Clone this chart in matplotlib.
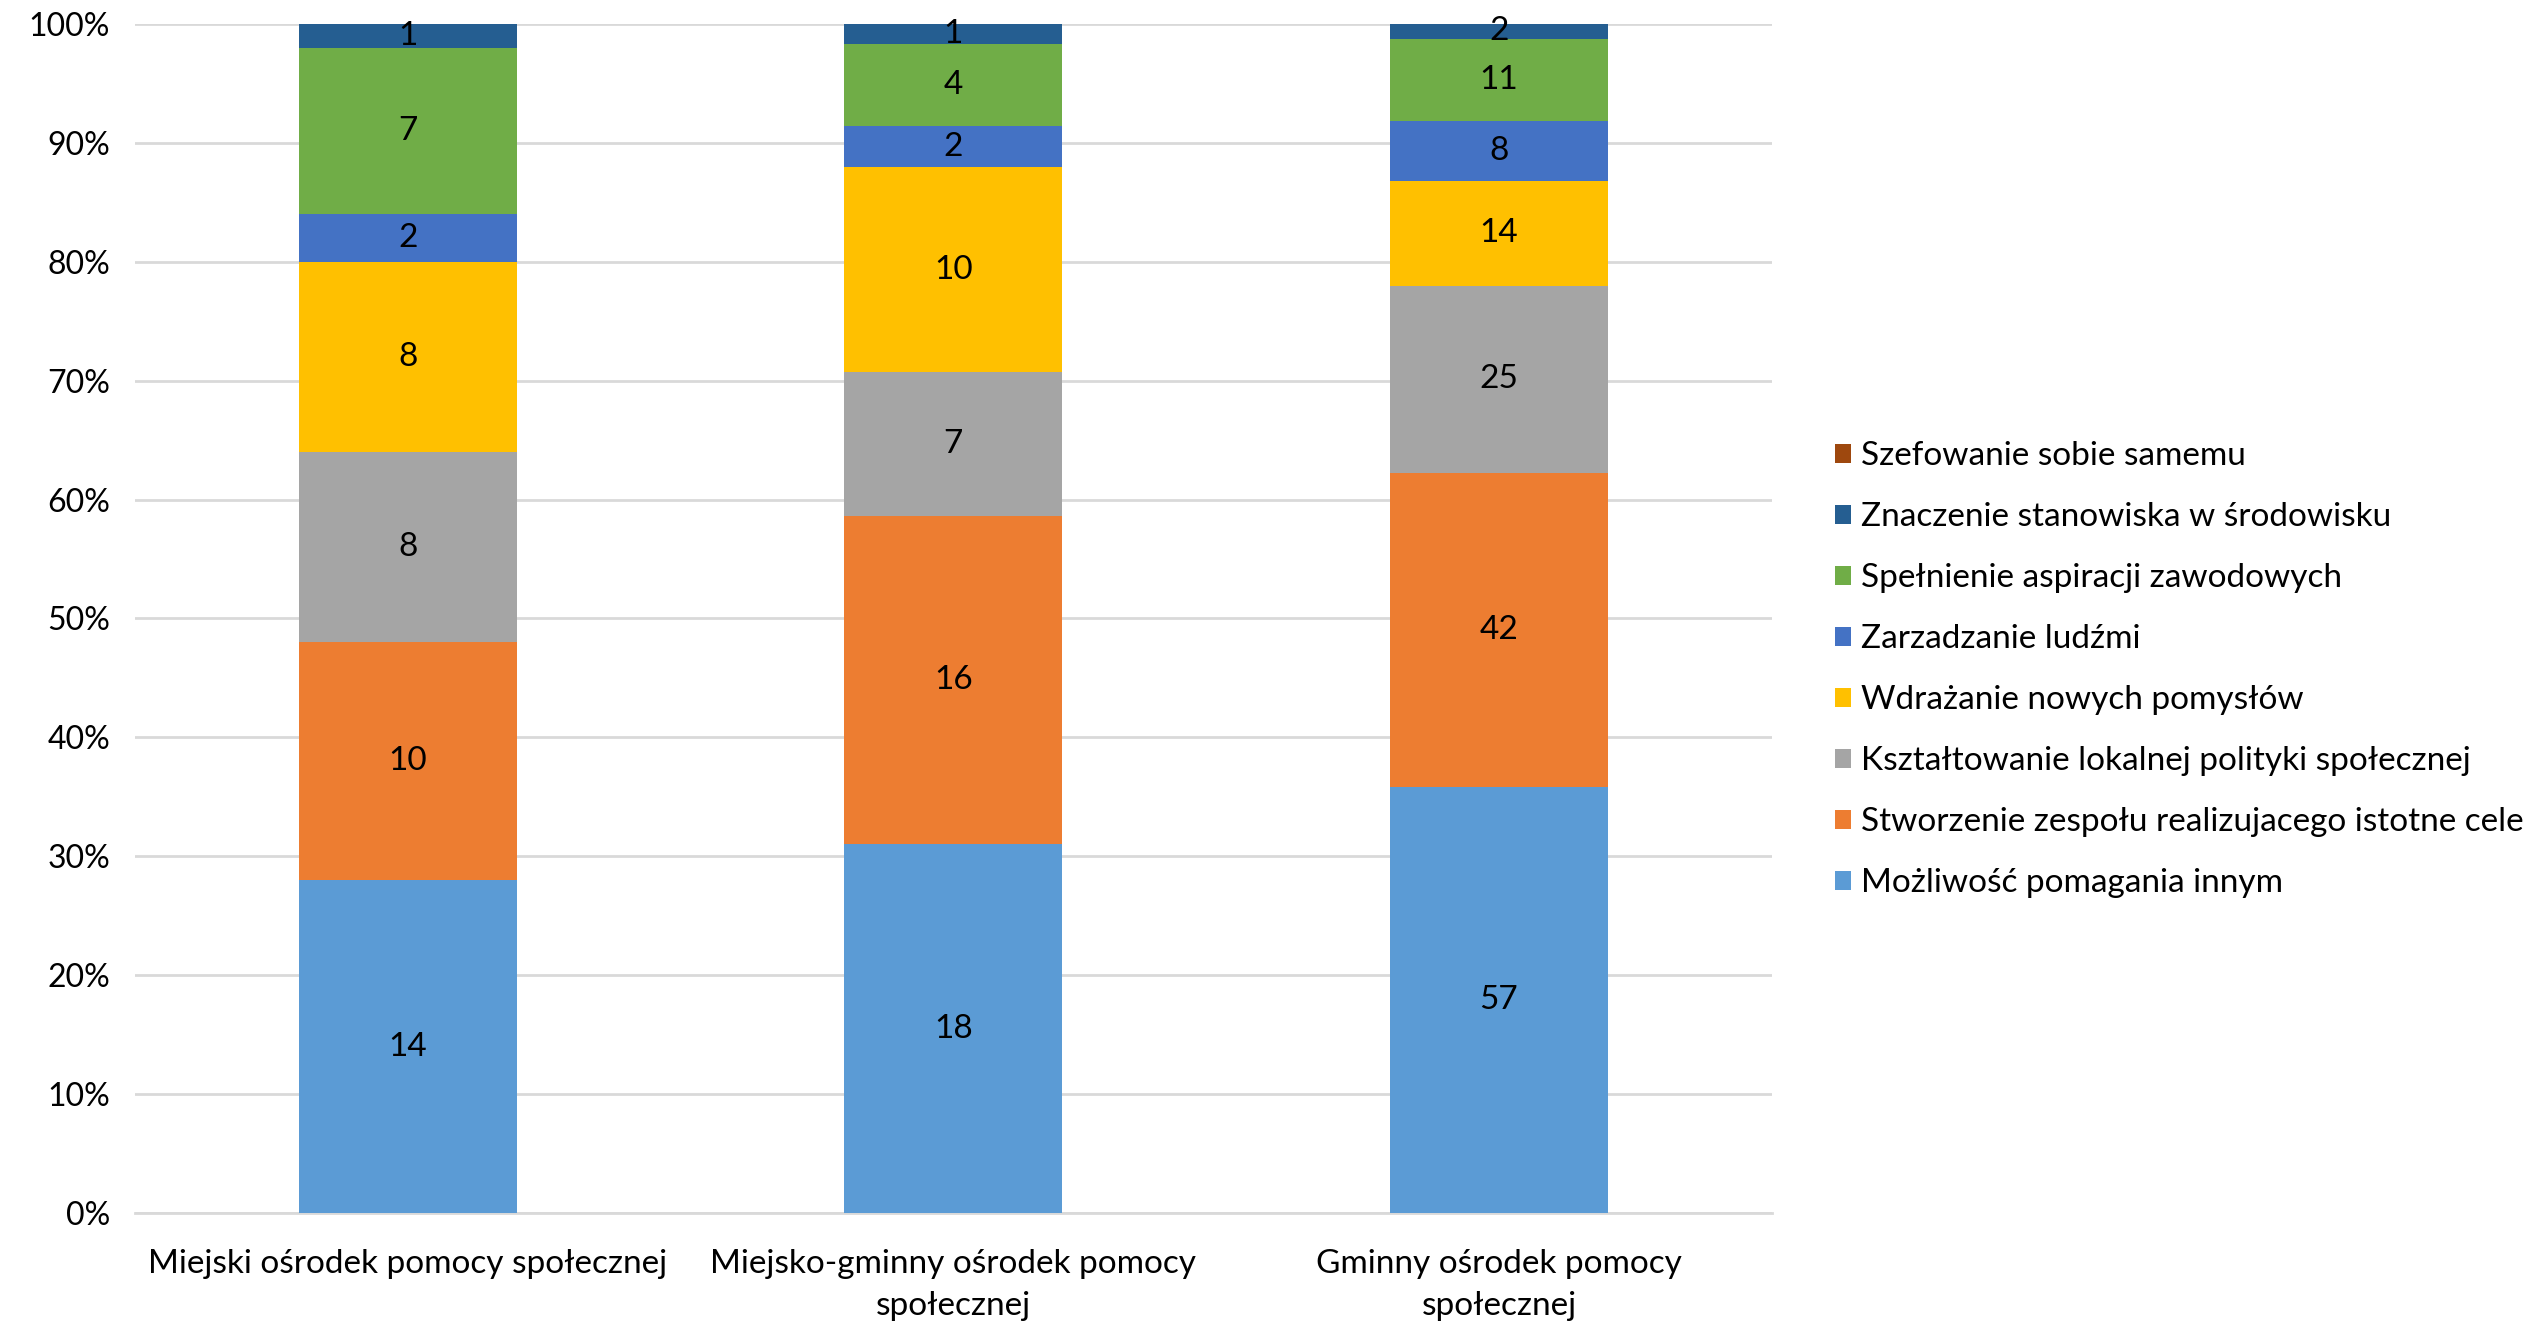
import matplotlib
matplotlib.use("Agg")
import matplotlib.pyplot as plt
from matplotlib.patches import Patch
from matplotlib.ticker import FuncFormatter
import numpy as np

plt.rcParams['font.family'] = ['Lato', 'DejaVu Sans']

categories = ["Miejski ośrodek pomocy społecznej",
              "Miejsko-gminny ośrodek pomocy\nspołecznej",
              "Gminny ośrodek pomocy\nspołecznej"]

series_names = ["Możliwość pomagania innym",
                "Stworzenie zespołu realizujacego istotne cele",
                "Kształtowanie lokalnej polityki społecznej",
                "Wdrażanie nowych pomysłów",
                "Zarzadzanie ludźmi",
                "Spełnienie aspiracji zawodowych",
                "Znaczenie stanowiska w środowisku",
                "Szefowanie sobie samemu"]

pomaganie = [14, 18, 57]
zespol = [10, 16, 42]
polityka = [8, 7, 25]
pomysly = [8, 10, 14]
ludzmi = [2, 2, 8]
aspiracje = [7, 4, 11]
znaczenie = [1, 1, 2]
szefowanie = [0, 0, 0]

series_values = [pomaganie, zespol, polityka, pomysly, ludzmi, aspiracje, znaczenie, szefowanie]
colors = ["#5B9BD5", "#ED7D31", "#A5A5A5", "#FFC000", "#4472C4", "#70AD47", "#255E91", "#9E480E"]

data = np.array(series_values, dtype=float)
totals = data.sum(axis=0)
frac = data / totals

fig = plt.figure(figsize=(25.42, 13.26), dpi=100)
ax = fig.add_axes([0.0531, 0.0852, 0.697 - 0.0531, 0.982 - 0.0852])

x = np.arange(len(categories))
bottom = np.zeros(len(categories))
for i, (name, col) in enumerate(zip(series_names, colors)):
    ax.bar(x, frac[i], 0.4, bottom=bottom, color=col, zorder=3, linewidth=0)
    for j in range(len(categories)):
        if data[i, j] > 0:
            ax.text(x[j], bottom[j] + frac[i, j] / 2, f"{int(data[i, j])}",
                    ha='center', va='center', fontsize=24, color='black', zorder=4)
    bottom += frac[i]

ax.set_xlim(-0.5, 2.5)
ax.set_ylim(0, 1)
ax.set_yticks(np.arange(0, 1.01, 0.1))
ax.yaxis.set_major_formatter(FuncFormatter(lambda v, p: f"{int(round(v*100))}%"))
ax.grid(axis='y', color='#D9D9D9', linewidth=2, zorder=0)
for s in ['top', 'right', 'left']:
    ax.spines[s].set_visible(False)
ax.spines['bottom'].set_color('#D9D9D9')
ax.spines['bottom'].set_linewidth(2)
ax.tick_params(axis='both', length=0, colors='black')
ax.tick_params(axis='y', pad=18, labelsize=23)
ax.tick_params(axis='x', pad=26, labelsize=24)
ax.set_xticks(x)
ax.set_xticklabels(categories, linespacing=1.5)

handles = [Patch(facecolor=c, label=n) for n, c in zip(series_names, colors)]
handles = handles[::-1]
leg = fig.legend(handles=handles, loc='center left', bbox_to_anchor=(0.710, 0.495),
                 frameon=False, fontsize=24, handlelength=0.5, handleheight=0.5,
                 handletextpad=0.3, labelspacing=0.93)

fig.savefig("out.png", dpi=100)
